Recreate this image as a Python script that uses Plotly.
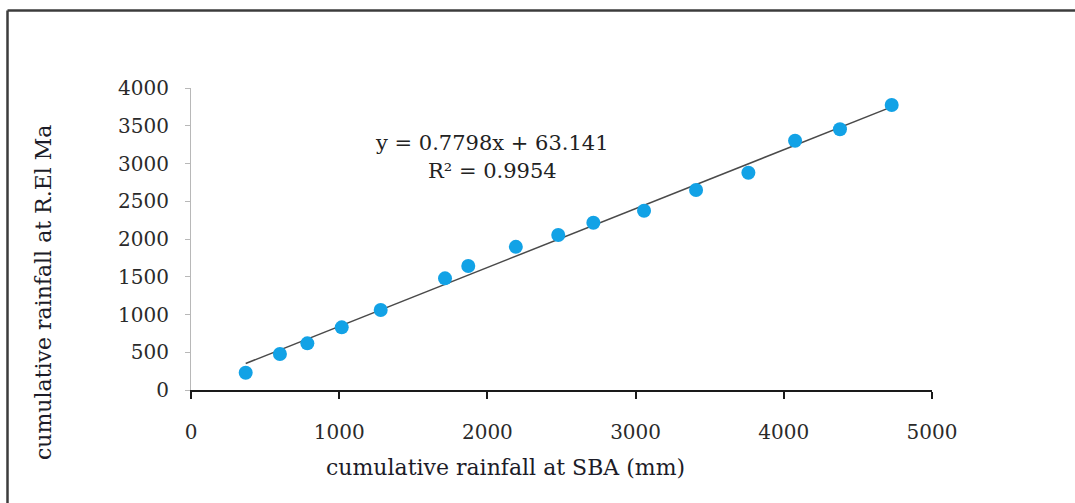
import plotly.graph_objects as go

# Cumulative rainfall (mm): SBA station vs R.El Ma station
sba_mm = [369, 600, 785, 1017, 1280, 1714, 1871, 2192, 2478, 2715, 3057, 3408, 3761, 4076, 4379, 4728]
rel_ma_mm = [229, 477, 618, 830, 1060, 1479, 1642, 1896, 2053, 2216, 2375, 2649, 2878, 3302, 3453, 3775]

# Linear regression reported on the chart
slope = 0.7798
intercept = 63.141
r_squared = 0.9954

x_ticks = [0, 1000, 2000, 3000, 4000, 5000]
y_ticks = [0, 500, 1000, 1500, 2000, 2500, 3000, 3500, 4000]

W, H = 1075, 503
L, R, T, B = 191, 143, 88, 113
pw, ph = W - L - R, H - T - B


def px_to_paper(px, py):
    return (px - L) / pw, (H - B - py) / ph


x_fit = [min(sba_mm), max(sba_mm)]
y_fit = [slope * v + intercept for v in x_fit]

fig = go.Figure()
fig.add_trace(go.Scatter(
    x=x_fit, y=y_fit, mode="lines",
    line=dict(color="#4a4a4a", width=1.5),
    showlegend=False, hoverinfo="skip",
))
fig.add_trace(go.Scatter(
    x=sba_mm, y=rel_ma_mm, mode="markers",
    marker=dict(color="#12a2e6", size=14, line=dict(width=0)),
    showlegend=False,
))

tick_font = dict(family="DejaVu Serif", size=20, color="#2a2a2a")
title_font = dict(family="DejaVu Serif", size=22, color="#1c1c28")
eq_font = dict(family="DejaVu Serif", size=21, color="#222222")

fig.update_xaxes(
    range=[0, 5000], tickvals=x_ticks, ticktext=[str(v) for v in x_ticks],
    showgrid=False, zeroline=False,
    showline=True, linecolor="#1a1a1a", linewidth=2,
    ticks="outside", ticklen=7, tickwidth=2, tickcolor="#1a1a1a",
    tickfont=tick_font, ticklabelstandoff=16,
)
fig.update_yaxes(
    range=[0, 4000], tickvals=y_ticks, ticktext=[str(v) for v in y_ticks],
    showgrid=False, zeroline=False,
    showline=True, linecolor="#b8b8b8", linewidth=1,
    ticks="outside", ticklen=5, tickwidth=1, tickcolor="#b8b8b8",
    tickfont=tick_font, ticklabelstandoff=12,
)

eq_x, eq_y = px_to_paper(492, 143)
r2_x, r2_y = px_to_paper(492, 171)
xt_x, xt_y = px_to_paper(505, 467)
yt_x, yt_y = px_to_paper(43, 293)

centered = dict(xref="paper", yref="paper", showarrow=False,
                xanchor="center", yanchor="middle")
annotations = [
    dict(x=eq_x, y=eq_y, text=f"y = {slope}x + {intercept}", font=eq_font, **centered),
    dict(x=r2_x, y=r2_y, text=f"R² = {r_squared}", font=eq_font, **centered),
    dict(x=xt_x, y=xt_y, text="cumulative rainfall at SBA (mm)", font=title_font, **centered),
    dict(x=yt_x, y=yt_y, textangle=-90, text="cumulative rainfall at R.El Ma",
         font=title_font, **centered),
]

# Outer frame: top and left edges of the chart border
fx0, fy0 = px_to_paper(7.5, 10.5)
fx1, _ = px_to_paper(W + 20, 10.5)
_, fy1 = px_to_paper(7.5, H + 20)
shapes = [
    dict(type="line", xref="paper", yref="paper", x0=fx0, y0=fy0, x1=fx1, y1=fy0,
         line=dict(color="#3c3c3c", width=2.5)),
    dict(type="line", xref="paper", yref="paper", x0=fx0, y0=fy0, x1=fx0, y1=fy1,
         line=dict(color="#3c3c3c", width=2.5)),
]

fig.update_layout(
    width=W, height=H,
    margin=dict(l=L, r=R, t=T, b=B),
    paper_bgcolor="white", plot_bgcolor="white",
    annotations=annotations, shapes=shapes,
    showlegend=False,
)

fig.write_html("out.html")
